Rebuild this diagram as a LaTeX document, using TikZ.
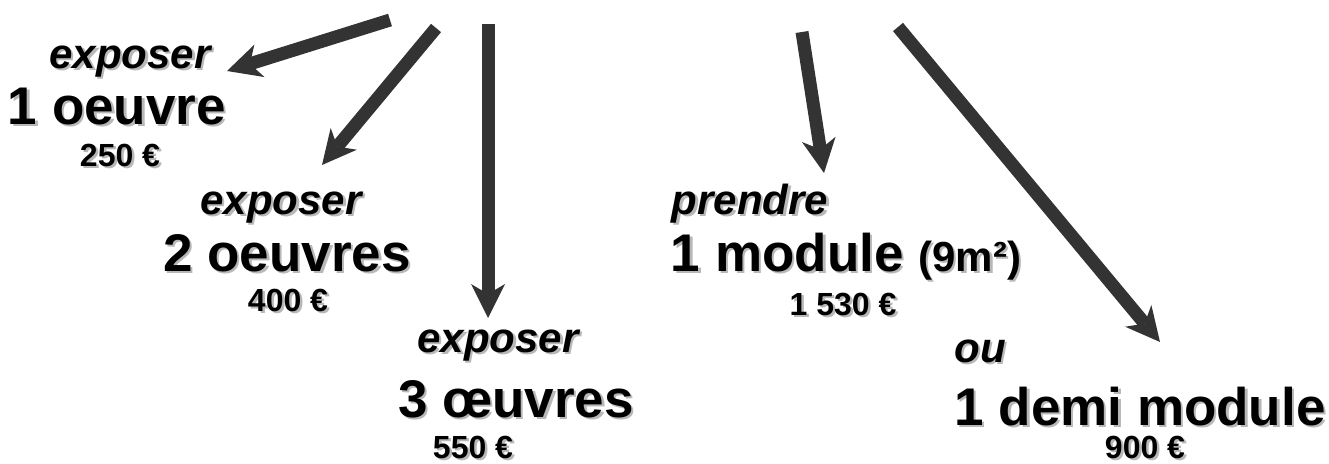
\documentclass[tikz,border=0pt]{standalone}
\usepackage{fontspec}
\setmainfont{Liberation Sans}
\usetikzlibrary{calc,arrows.meta}
\definecolor{arrowgray}{HTML}{333333}
\def\shadowtext[#1](#2:#3)#4{\node[#1,text=black!28] at ($(#2,#3)+(2.5,2.5)$) {#4};\node[#1] (#1#2) at (#2,#3) {#4};}

\tikzset{
  verb/.style={font=\fontsize{42}{48}\selectfont\bfseries\itshape, anchor=base, inner sep=0pt},
  item/.style={font=\fontsize{53}{60}\selectfont\bfseries, anchor=base, inner sep=0pt},
  price/.style={font=\fontsize{32}{36}\selectfont\bfseries, anchor=base, inner sep=0pt},
  bigarrow/.style={draw=arrowgray, line width=13pt,
    -{Stealth[length=34pt,width=34pt,inset=10pt,line width=0pt]}}
}

\begin{document}
\begin{tikzpicture}[x=1pt,y=-1pt]
			\useasboundingbox (0,0) rectangle (1329,463);
			
			%%%%% TEXTS %%%%%
			\shadowtext[verb](130:68){exposer}
			\shadowtext[item](117:124){1 oeuvre}
			\shadowtext[price](120:166){250 €}
			
			\shadowtext[verb](281:214){exposer}
			\shadowtext[item](287:271){2 oeuvres}
			\shadowtext[price](288:311){400 €}
			
			\shadowtext[verb](498:352){exposer}
			\shadowtext[item](516:417){3 œuvres}
			\shadowtext[price](473:458){550 €}
			
			\shadowtext[verb](750:214){prendre}
			\shadowtext[item](846:271){1 module {\fontsize{42}{46}\selectfont (9m²)}}
			\shadowtext[price](843:315){1 530 €}
			
			\shadowtext[verb](980:362){ou}
			\shadowtext[item](1140:425){1 demi module}
			\shadowtext[price](1145:458){900 €}
			
			%%%%% ARROWS %%%%%
			\coordinate (src1) at (390, 20);
			\coordinate (dst1) at (227, 71);
			\coordinate (src2) at (436, 28);
			\coordinate (dst2) at (322, 165);
			\coordinate (src3) at (488, 24);
			\coordinate (dst3) at (488, 318);
			\coordinate (src4) at (802, 32);
			\coordinate (dst4) at (824, 173);
			\coordinate (src5) at (898, 27);
			\coordinate (dst5) at (1160, 342);
			
			\foreach \i in {1,...,5}
				\draw[bigarrow] (src\i) -- (dst\i);
			
\end{tikzpicture}
\end{document}
